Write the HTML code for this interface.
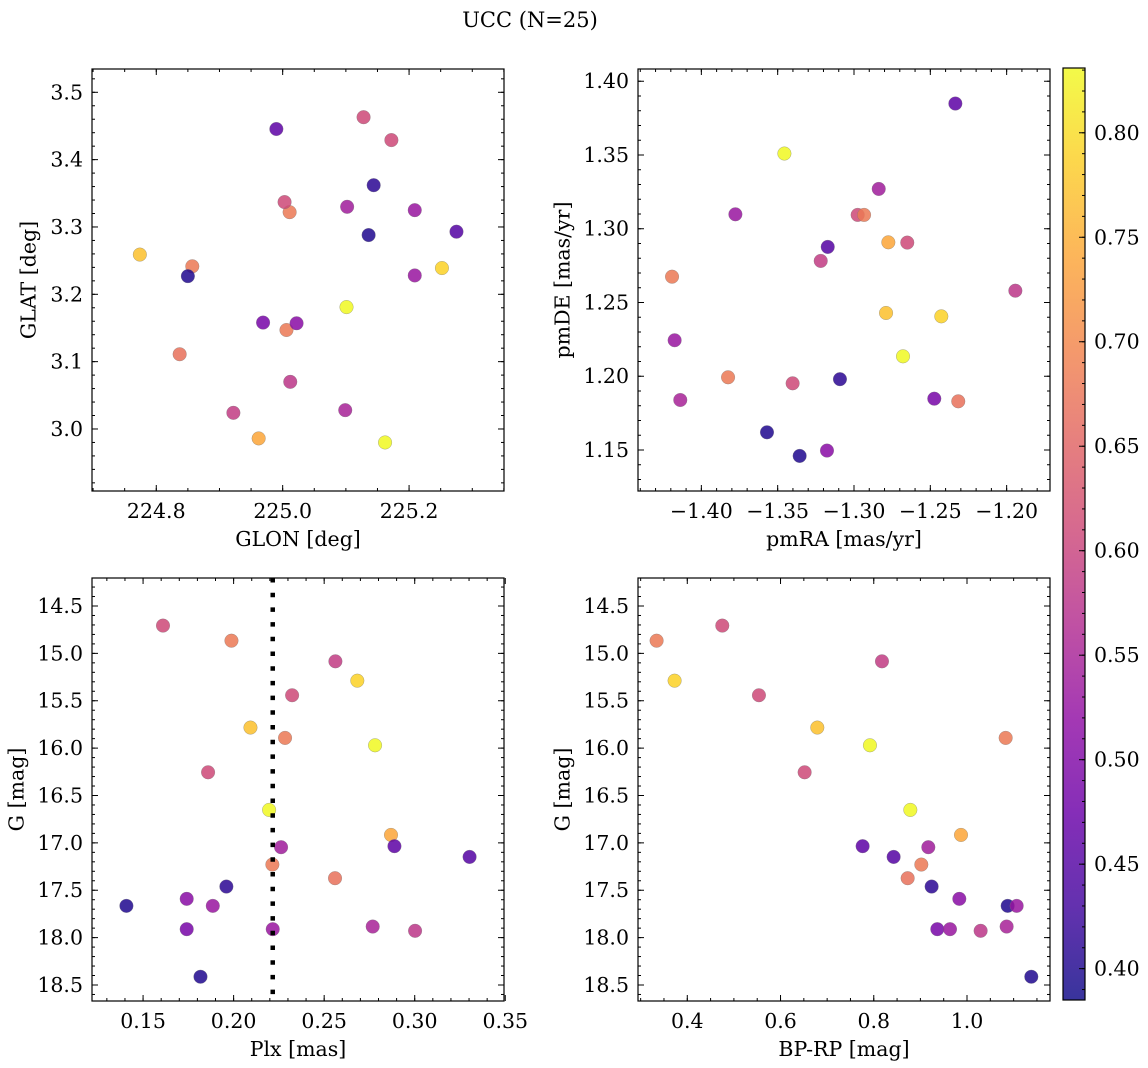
<!DOCTYPE html>
<html><head><meta charset="utf-8">
<style>
html,body{margin:0;padding:0;background:#fff;}
svg{display:block;font-family:"DejaVu Serif","Liberation Serif",serif;}
</style></head>
<body>
<svg id="fig" width="1148" height="1068" viewBox="0 0 1148 1068" xmlns="http://www.w3.org/2000/svg">
<rect width="1148" height="1068" fill="#fff"/>
<text x="530" y="27" font-size="21" text-anchor="middle">UCC (N=25)</text>
</svg>
<script>
// ---- data (one entry per star) ----
const glon = [225.128,225.011,224.922,225.252,225.172,224.774,224.857,225.101,225.003,225.162,224.962,225.102,224.990,225.275,225.006,224.837,225.144,225.022,225.136,225.209,224.969,225.209,225.099,225.012,224.850];
const glat = [3.463,3.322,3.024,3.239,3.429,3.259,3.2416,3.181,3.337,2.980,2.986,3.330,3.4455,3.293,3.147,3.111,3.362,3.157,3.288,3.325,3.158,3.228,3.028,3.070,3.227];
const pmra = [-1.2976,-1.2934,-1.3218,-1.2428,-1.2651,-1.279,-1.4192,-1.3456,-1.3402,-1.2679,-1.2775,-1.2838,-1.2336,-1.3172,-1.3825,-1.2317,-1.3092,-1.3177,-1.357,-1.3777,-1.2474,-1.4175,-1.4138,-1.1943,-1.3356];
const pmde = [1.3094,1.3094,1.2782,1.2406,1.2906,1.2429,1.2675,1.351,1.1952,1.2135,1.2908,1.327,1.3849,1.2877,1.1993,1.183,1.198,1.1496,1.162,1.3098,1.1848,1.2244,1.1839,1.258,1.146];
const plx = [0.1610,0.1988,0.2562,0.2683,0.2323,0.2093,0.2284,0.2781,0.1859,0.2196,0.2869,0.2262,0.2888,0.3303,0.2214,0.2560,0.1960,0.1741,0.1408,0.1885,0.1741,0.2216,0.2768,0.3002,0.1817];
const gmag = [14.707,14.866,15.084,15.288,15.442,15.783,15.892,15.970,16.255,16.652,16.916,17.046,17.035,17.148,17.229,17.373,17.461,17.591,17.665,17.665,17.911,17.911,17.883,17.928,18.413];
const bprp = [0.4751,0.3342,0.8176,0.3728,0.5537,0.6789,1.0829,0.7918,0.6517,0.8784,0.9871,0.9170,0.7761,0.8426,0.9020,0.8727,0.9241,0.9835,1.0872,1.1065,0.9363,0.9635,1.0850,1.0292,1.1379];
const prob = [0.61,0.68,0.59,0.79,0.61,0.77,0.68,0.83,0.61,0.83,0.74,0.54,0.46,0.45,0.68,0.67,0.41,0.51,0.40,0.53,0.49,0.53,0.55,0.58,0.40];
const plxLine = 0.2216;
const glonTicks = [224.8,225.0,225.2];
const glatTicks = [3.0,3.1,3.2,3.3,3.4,3.5];
const pmraTicks = [-1.40,-1.35,-1.30,-1.25,-1.20];
const pmdeTicks = [1.15,1.20,1.25,1.30,1.35,1.40];
const plxTicks = [0.15,0.20,0.25,0.30,0.35];
const gTicks = [14.5,15.0,15.5,16.0,16.5,17.0,17.5,18.0,18.5];
const bprpTicks = [0.4,0.6,0.8,1.0];
const cbarTicks = [0.40,0.45,0.50,0.55,0.60,0.65,0.70,0.75,0.80];
const cMin = 0.385, cMax = 0.831;

const NS = "http://www.w3.org/2000/svg";
const svg = document.getElementById('fig');
const FS = 20.5;
function mk(tag, attrs, parent){
  const e = document.createElementNS(NS, tag);
  for (const k in attrs) e.setAttribute(k, attrs[k]);
  (parent||svg).appendChild(e);
  return e;
}
const plasma = [[13,8,135],[65,4,157],[106,0,168],[143,13,164],[177,42,144],[204,71,120],[225,100,98],[242,132,75],[252,166,54],[252,206,37],[240,249,33]];
function cmap(v){
  let t = (v - cMin)/(cMax - cMin); t = Math.max(0, Math.min(1, t));
  const p = t*10, i = Math.min(9, Math.floor(p)), f = p - i;
  const a = plasma[i], b = plasma[i+1];
  return 'rgb(' + [0,1,2].map(k => Math.round(a[k] + (b[k]-a[k])*f)).join(',') + ')';
}
const minus = s => s.replace('-', '\u2212');

function panel(o){
  const g = mk('g', {});
  
  
  const W = o.x1 - o.x0, H = o.y1 - o.y0;
  const sx = v => o.x0 + (v - o.xmin)/(o.xmax - o.xmin)*W;
  const sy = v => o.yInv ? o.y0 + (v - o.ymin)/(o.ymax - o.ymin)*H : o.y1 - (v - o.ymin)/(o.ymax - o.ymin)*H;
  const pg = mk('g', {}, g);
  
  
  for (let i = 0; i < o.xs.length; i++){
    const c = mk('circle', {cx: sx(o.xs[i]).toFixed(2), cy: sy(o.ys[i]).toFixed(2), r: 6.8, fill: cmap(prob[i]), 'fill-opacity': 0.85, stroke: '#777', 'stroke-opacity': 0.6, 'stroke-width': 0.5}, pg);
    
    
  }
  if (o.vline !== undefined){
    const l = mk('line', {x1: sx(o.vline), x2: sx(o.vline), y1: o.y0, y2: o.y1, stroke: '#000', 'stroke-width': 4.5, 'stroke-dasharray': '4.5 10.2'}, g);
    
    
  }
  const tg = mk('g', {stroke: '#000', 'stroke-width': 1}, g);
  
  
  const eps = 1e-9;
  const nmx0 = Math.ceil(o.xmin/o.xminor - eps), nmx1 = Math.floor(o.xmax/o.xminor + eps);
  for (let k = nmx0; k <= nmx1; k++){ const x = sx(k*o.xminor);
    mk('line', {x1: x, x2: x, y1: o.y1, y2: o.y1-3}, tg); mk('line', {x1: x, x2: x, y1: o.y0, y2: o.y0+3}, tg); }
  const nmy0 = Math.ceil(o.ymin/o.yminor - eps), nmy1 = Math.floor(o.ymax/o.yminor + eps);
  for (let k = nmy0; k <= nmy1; k++){ const y = sy(k*o.yminor);
    mk('line', {x1: o.x0, x2: o.x0+3, y1: y, y2: y}, tg); mk('line', {x1: o.x1, x2: o.x1-3, y1: y, y2: y}, tg); }
  o.xticks.forEach(v => { const x = sx(v);
    mk('line', {x1: x, x2: x, y1: o.y1, y2: o.y1-6}, tg); mk('line', {x1: x, x2: x, y1: o.y0, y2: o.y0+6}, tg);
    const t = mk('text', {x: x, y: o.y1 + 27, 'font-size': FS, 'text-anchor': 'middle'}, g);
    t.textContent = minus(v.toFixed(o.xdec));
    
    
  });
  o.yticks.forEach(v => { const y = sy(v);
    mk('line', {x1: o.x0, x2: o.x0+6, y1: y, y2: y}, tg); mk('line', {x1: o.x1, x2: o.x1-6, y1: y, y2: y}, tg);
    const t = mk('text', {x: o.x0 - 9, y: y + 7, 'font-size': FS, 'text-anchor': 'end'}, g);
    t.textContent = minus(v.toFixed(o.ydec));
    
    
  });
  const fr = mk('rect', {x: o.x0, y: o.y0, width: W, height: H, fill: 'none', stroke: '#000', 'stroke-width': 1.2}, g);
  
  
  const xl = mk('text', {x: (o.x0+o.x1)/2, y: o.y1 + 55, 'font-size': FS, 'text-anchor': 'middle'}, g);
  xl.textContent = o.xlabel;
  
  
  const yc = (o.y0+o.y1)/2;
  const yl = mk('text', {x: o.ylx, y: yc, 'font-size': FS, 'text-anchor': 'middle', transform: 'rotate(-90 ' + o.ylx + ' ' + yc + ')', 'dominant-baseline': 'middle'}, g);
  yl.textContent = o.ylabel;
  
  
}

panel({name:'glon-glat-panel', x0:92, x1:504, y0:69, y1:491, xmin:224.6983, xmax:225.3502, ymin:2.9079, ymax:3.5346,
  xs:glon, ys:glat, xticks:glonTicks, yticks:glatTicks, xminor:0.05, yminor:0.02, xdec:1, ydec:1,
  xlabel:'GLON [deg]', ylabel:'GLAT [deg]', ylx:30});
panel({name:'pm-panel', x0:638, x1:1050, y0:69, y1:491, xmin:-1.4415, xmax:-1.1716, ymin:1.1222, ymax:1.4083,
  xs:pmra, ys:pmde, xticks:pmraTicks, yticks:pmdeTicks, xminor:0.01, yminor:0.01, xdec:2, ydec:2,
  xlabel:'pmRA [mas/yr]', ylabel:'pmDE [mas/yr]', ylx:564});
panel({name:'plx-g-panel', x0:92, x1:504, y0:578, y1:1001, xmin:0.1218, xmax:0.3493, ymin:14.2045, ymax:18.669, yInv:true,
  xs:plx, ys:gmag, xticks:plxTicks, yticks:gTicks, xminor:0.01, yminor:0.1, xdec:2, ydec:1,
  xlabel:'Plx [mas]', ylabel:'G [mag]', ylx:18, vline:plxLine});
panel({name:'cmd-panel', x0:638, x1:1050, y0:578, y1:1001, xmin:0.2943, xmax:1.178, ymin:14.2045, ymax:18.669, yInv:true,
  xs:bprp, ys:gmag, xticks:bprpTicks, yticks:gTicks, xminor:0.05, yminor:0.1, xdec:1, ydec:1,
  xlabel:'BP-RP [mag]', ylabel:'G [mag]', ylx:564});

(function(){
  const x0 = 1063, x1 = 1085, y0 = 68, y1 = 1000;
  const g = mk('g', {});
  
  
  const defs = mk('defs', {}, g);
  const lg = mk('linearGradient', {id: 'cbg', x1: 0, y1: 1, x2: 0, y2: 0}, defs);
  for (let i = 0; i <= 20; i++){
    const v = cMin + (cMax - cMin)*i/20;
    mk('stop', {offset: (i/20), 'stop-color': cmap(v), 'stop-opacity': 0.82}, lg);
  }
  mk('rect', {x: x0, y: y0, width: x1-x0, height: y1-y0, fill: 'url(#cbg)'}, g);
  const sy = v => y1 - (v - cMin)/(cMax - cMin)*(y1 - y0);
  const tg = mk('g', {stroke: '#000', 'stroke-width': 1}, g);
  for (let k = Math.ceil(cMin/0.01); k <= Math.floor(cMax/0.01); k++){
    const y = sy(k*0.01); mk('line', {x1: x1, x2: x1-3, y1: y, y2: y}, tg);
  }
  cbarTicks.forEach(v => { const y = sy(v);
    mk('line', {x1: x1, x2: x1-6, y1: y, y2: y}, tg);
    const t = mk('text', {x: x1 + 9, y: y + 7, 'font-size': FS}, g);
    t.textContent = v.toFixed(2);
    
    
  });
  mk('rect', {x: x0, y: y0, width: x1-x0, height: y1-y0, fill: 'none', stroke: '#000', 'stroke-width': 1.2}, g);
})();
</script>
</body></html>
